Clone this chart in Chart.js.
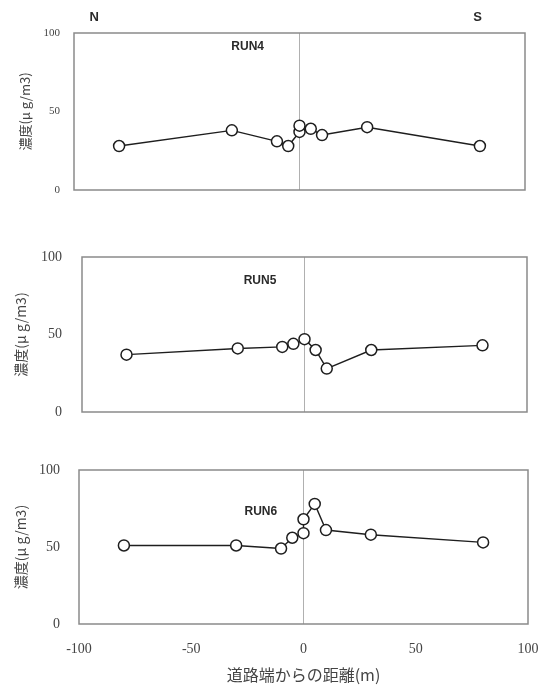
<!DOCTYPE html>
<html><head><meta charset="utf-8">
<script src="https://cdn.jsdelivr.net/npm/chart.js@4/dist/chart.umd.min.js"></script>
<style>
html,body{margin:0;padding:0;background:#fff;width:547px;height:686px;overflow:hidden}
canvas{position:absolute;left:0;top:0}
</style></head>
<body>
<canvas id="c1" width="547" height="686"></canvas>
<canvas id="c2" width="547" height="686"></canvas>
<canvas id="c3" width="547" height="686"></canvas>
<script>
// ---- data ----
const distRun4 = [-80, -30, -10, -5, 0, 0, 5, 10, 30, 80];
const run4 = [28, 38, 31, 28, 37, 41, 39, 35, 40, 28];
const distRun5 = [-80, -30, -10, -5, 0, 5, 10, 30, 80];
const run5 = [37, 41, 42, 44, 47, 40, 28, 40, 43];
const distRun6 = [-80, -30, -10, -5, 0, 0, 5, 10, 30, 80];
const run6 = [51, 51, 49, 56, 59, 68, 78, 61, 58, 53];
const xTicks = [-100, -50, 0, 50, 100];
const yTicks = [0, 50, 100];
const runNames = ['RUN4', 'RUN5', 'RUN6'];
const yTitle = '濃度(μ g/m3)';
const xTitle = '道路端からの距離(m)';
const dirNames = ['N', 'S'];

const W = 547, H = 686;
const serif = '"Liberation Serif", "DejaVu Serif", serif';
const jp = '"Noto Sans CJK JP", sans-serif';

const framePlugin = {
  id: 'frame',
  beforeDatasetsDraw(chart, args, o) {
    const {ctx, chartArea: a, scales: {x, y}} = chart;
    ctx.save();
    ctx.strokeStyle = '#8a8a8a';
    ctx.lineWidth = 1.5;
    ctx.strokeRect(a.left, a.top, a.right - a.left, a.bottom - a.top);
    ctx.fillStyle = '#2a2a2a';
    ctx.font = 'bold 12px "Liberation Sans", Arial, sans-serif';
    ctx.textAlign = 'center';
    ctx.textBaseline = 'middle';
    ctx.fillText(o.label, x.getPixelForValue(o.lx), y.getPixelForValue(o.ly));
    if (o.dirs) {
      ctx.font = 'bold 13px "Liberation Sans", Arial, sans-serif';
      ctx.fillText(dirNames[0], x.getPixelForValue(o.dirs[0]), a.top - 16);
      ctx.fillText(dirNames[1], x.getPixelForValue(o.dirs[1]), a.top - 16);
    }
    ctx.restore();
  }
};

function makeChart(id, xs, ys, p) {
  const showX = !!p.showX;
  const xh = showX ? 62 : 0;
  return new Chart(document.getElementById(id), {
    type: 'scatter',
    data: {
      datasets: [{
        data: xs.map((v, i) => ({x: v, y: ys[i]})),
        showLine: true,
        borderColor: '#1e1e1e',
        borderWidth: 1.4,
        pointRadius: 5.5,
        pointHoverRadius: 5.5,
        pointBackgroundColor: '#ffffff',
        pointBorderColor: '#1e1e1e',
        pointBorderWidth: 1.5,
        tension: 0
      }]
    },
    options: {
      responsive: false,
      animation: false,
      devicePixelRatio: 1,
      layout: {padding: {left: 0, right: W - p.right, top: p.top, bottom: H - p.bottom - xh}},
      plugins: {
        legend: {display: false},
        tooltip: {enabled: false},
        frame: {label: p.label, lx: p.lx, ly: p.ly, dirs: p.dirs}
      },
      scales: {
        x: {
          type: 'linear', min: -100, max: 100,
          afterBuildTicks: s => { s.ticks = xTicks.map(v => ({value: v})); },
          afterFit: s => { s.height = xh; s.paddingLeft = 0; s.paddingRight = 0; },
          border: {display: false},
          grid: {
            drawTicks: false,
            color: c => (c.tick && c.tick.value === 0) ? '#b0b0b0' : 'rgba(0,0,0,0)',
            lineWidth: 1
          },
          ticks: {display: showX, padding: 17, color: '#444', font: {family: serif, size: 14}},
          title: {display: showX, text: xTitle, color: '#444', font: {family: jp, size: 16}, padding: {top: 0, bottom: 1}}
        },
        y: {
          type: 'linear', min: 0, max: 100,
          afterBuildTicks: s => { s.ticks = yTicks.map(v => ({value: v})); },
          afterFit: s => { s.width = p.left; },
          border: {display: false},
          grid: {display: false, drawTicks: false},
          ticks: {padding: p.tickPad, color: '#444', font: {family: serif, size: p.font}},
          title: {display: true, text: yTitle, color: '#444', font: {family: jp, size: p.tfont}, padding: {top: p.tpad, bottom: 0}}
        }
      }
    },
    plugins: [framePlugin]
  });
}

makeChart('c1', distRun4, run4, {left: 74, right: 525, top: 33, bottom: 190, font: 11, tickPad: 14, tfont: 13, tpad: 17, label: runNames[0], lx: -23, ly: 91, dirs: [-91, 79]});
makeChart('c2', distRun5, run5, {left: 82, right: 527, top: 257, bottom: 412, font: 14, tickPad: 20, tfont: 14, tpad: 12, label: runNames[1], lx: -20, ly: 85});
makeChart('c3', distRun6, run6, {left: 79, right: 528, top: 470, bottom: 624, font: 14, tickPad: 19, tfont: 14, tpad: 12, label: runNames[2], lx: -19, ly: 73, showX: true});
</script>
</body></html>
